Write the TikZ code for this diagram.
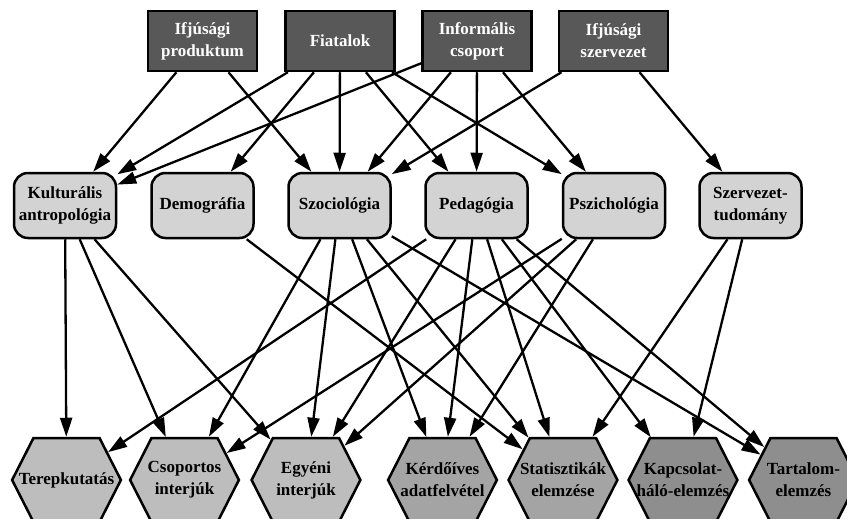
\documentclass[tikz,border=0pt]{standalone}
\usepackage{fontspec}
\setmainfont{Liberation Serif}
\usetikzlibrary{arrows.meta}
\usetikzlibrary{shapes.symbols}

\definecolor{forrasszurke}{HTML}{585858}
\definecolor{tudomanyszurke}{HTML}{D3D3D3}
\definecolor{modszerA}{HTML}{BDBDBD}
\definecolor{modszerB}{HTML}{A4A4A4}
\definecolor{modszerC}{HTML}{8E8E8E}

\newcommand\hsor[1]{\makebox[\linewidth]{#1}}

\begin{document}
\begin{tikzpicture}[x=1pt,y=-1pt,
        felirat/.style={align=center,inner sep=0pt,font=\bfseries\fontsize{17}{22}\selectfont},
        forras/.style={felirat,draw,line width=2.5pt,fill=forrasszurke,text=white,
            minimum width=109pt,minimum height=60pt},
        tudomany/.style={felirat,draw,line width=2.5pt,fill=tudomanyszurke,rounded corners=14pt,
            minimum width=102pt,minimum height=65pt},
        modszer/.style={felirat,draw,line width=2.5pt,signal,signal to=east and west,
            signal pointer angle=126,text width=66pt,minimum height=84pt},
        nyil/.style={line width=2.3pt,-{Triangle[length=19pt,width=12pt]}}]
                    \useasboundingbox (0,0) rectangle (847,519);
                    \clip (0,0) rectangle (847,519);

                    \node[forras] (ifjprod)  at (202.5,41) {Ifjúsági\\produktum};
                    \node[forras] (fiatal)   at (340,41)   {Fiatalok};
                    \node[forras] (infcsop)  at (477,41)   {Informális\\csoport};
                    \node[forras] (ifjszerv) at (613.5,41) {Ifjúsági\\szervezet};

                    \node[tudomany] (kultant)  at (65,205.5)    {Kulturális\\antropológia};
                    \node[tudomany] (demogr)   at (202.5,205.5) {Demográfia};
                    \node[tudomany] (szoc)     at (339.5,205.5) {Szociológia};
                    \node[tudomany] (ped)      at (476.5,205.5) {Pedagógia};
                    \node[tudomany] (pszich)   at (614,205.5)   {Pszichológia};
                    \node[tudomany] (szervtud) at (750.5,205.5) {Szervezet-\\tudomány};

                    \node[modszer,fill=modszerA] (terep)    at (66.5,480)  {\hsor{Terepkutatás}};
                    \node[modszer,fill=modszerA] (csopint)  at (184.5,480) {\hsor{Csoportos}\\\hsor{interjúk}};
                    \node[modszer,fill=modszerA] (egyint)   at (306,480)   {\hsor{Egyéni}\\\hsor{interjúk}};
                    \node[modszer,fill=modszerB] (kerdoiv)  at (442.5,480) {\hsor{Kérdőíves}\\\hsor{adatfelvétel}};
                    \node[modszer,fill=modszerB] (stat)     at (563,480)   {\hsor{Statisztikák}\\\hsor{elemzése}};
                    \node[modszer,fill=modszerC] (kapcsol)  at (683,480)   {\hsor{Kapcsolat-}\\\hsor{háló-elemzés}};
                    \node[modszer,fill=modszerC] (tartalom) at (803.5,480) {\hsor{Tartalom-}\\\hsor{elemzés}};

                    \draw[nyil] (ifjprod) -- (kultant);
                    \draw[nyil] (ifjprod) -- (szoc);
                    \draw[nyil] (fiatal) -- (kultant);
                    \draw[nyil] (fiatal) -- (demogr);
                    \draw[nyil] (fiatal) -- (szoc);
                    \draw[nyil] (fiatal) -- (ped);
                    \draw[nyil] (fiatal) -- (pszich);
                    \draw[nyil] (infcsop) -- (kultant);
                    \draw[nyil] (infcsop) -- (szoc);
                    \draw[nyil] (infcsop) -- (ped);
                    \draw[nyil] (infcsop) -- (pszich);
                    \draw[nyil] (ifjszerv) -- (szoc);
                    \draw[nyil] (ifjszerv) -- (szervtud);

                    \draw[nyil] (kultant) -- (terep);
                    \draw[nyil] (kultant) -- (csopint);
                    \draw[nyil] (kultant) -- (egyint);
                    \draw[nyil] (demogr) -- (stat);
                    \draw[nyil] (szoc) -- (csopint);
                    \draw[nyil] (szoc) -- (egyint);
                    \draw[nyil] (szoc) -- (kerdoiv);
                    \draw[nyil] (szoc) -- (stat);
                    \draw[nyil] (szoc) -- (tartalom);
                    \draw[nyil] (ped) -- (terep);
                    \draw[nyil] (ped) -- (egyint);
                    \draw[nyil] (ped) -- (kerdoiv);
                    \draw[nyil] (ped) -- (stat);
                    \draw[nyil] (ped) -- (kapcsol);
                    \draw[nyil] (ped) -- (tartalom);
                    \draw[nyil] (pszich) -- (csopint);
                    \draw[nyil] (pszich) -- (egyint);
                    \draw[nyil] (pszich) -- (kerdoiv);
                    \draw[nyil] (szervtud) -- (stat);
                    \draw[nyil] (szervtud) -- (kapcsol);
                \end{tikzpicture}
\end{document}
